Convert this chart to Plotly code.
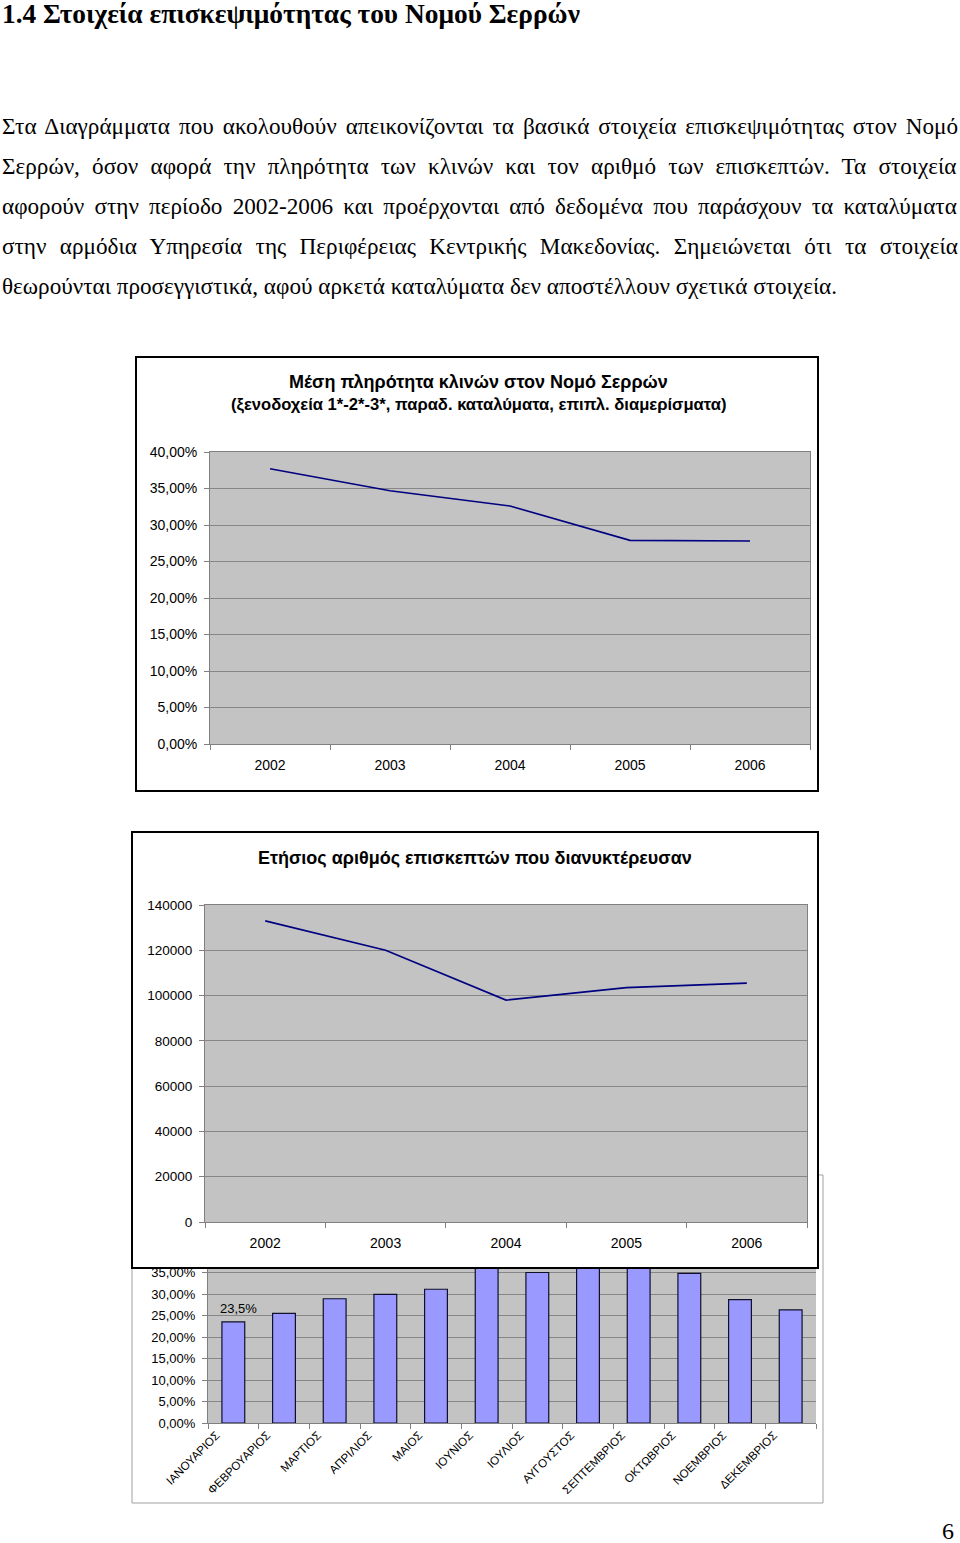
import plotly.graph_objects as go

W, H = 960, 1543


def fx(x):
    return x / W


def fy(y):
    return 1 - y / H


# ---------------- data ----------------
page_title = "1.4 Στοιχεία επισκεψιμότητας του Νομού Σερρών"
para_lines = [
    "Στα Διαγράμματα που ακολουθούν απεικονίζονται τα βασικά στοιχεία επισκεψιμότητας στον Νομό",
    "Σερρών, όσον αφορά την πληρότητα των κλινών και τον αριθμό των επισκεπτών. Τα στοιχεία",
    "αφορούν στην περίοδο 2002-2006 και προέρχονται από δεδομένα που παράσχουν τα καταλύματα",
    "στην αρμόδια Υπηρεσία της Περιφέρειας Κεντρικής Μακεδονίας. Σημειώνεται ότι τα στοιχεία",
    "θεωρούνται προσεγγιστικά, αφού αρκετά καταλύματα δεν αποστέλλουν σχετικά στοιχεία.",
]
page_number = "6"

chart1_title = [
    "Μέση πληρότητα κλινών στον Νομό Σερρών",
    "(ξενοδοχεία 1*-2*-3*, παραδ. καταλύματα, επιπλ. διαμερίσματα)",
]
chart2_title = "Ετήσιος αριθμός επισκεπτών που διανυκτέρευσαν"

years = ["2002", "2003", "2004", "2005", "2006"]
occupancy = [37.7, 34.7, 32.6, 27.9, 27.8]
visitors = [133000, 120000, 98000, 103500, 105500]

months = ["ΙΑΝΟΥΑΡΙΟΣ", "ΦΕΒΡΟΥΑΡΙΟΣ", "ΜΑΡΤΙΟΣ", "ΑΠΡΙΛΙΟΣ", "ΜΑΙΟΣ", "ΙΟΥΝΙΟΣ",
          "ΙΟΥΛΙΟΣ", "ΑΥΓΟΥΣΤΟΣ", "ΣΕΠΤΕΜΒΡΙΟΣ", "ΟΚΤΩΒΡΙΟΣ", "ΝΟΕΜΒΡΙΟΣ", "ΔΕΚΕΜΒΡΙΟΣ"]
monthly_occupancy = [23.5, 25.5, 28.9, 29.9, 31.1, 38.0, 35.0, 41.0, 37.5, 34.8, 28.7, 26.3]

# ---------------- styles ----------------
SERIF = "Liberation Serif, Times New Roman, serif"
SANS = "Liberation Sans, Arial, sans-serif"
GRID = "#878787"
BG = "#c3c3c3"
PARA_SIZE = 23.2
# extra word spacing (px) used to justify the paragraph lines
para_wordspacing = [3.2, 6.4, 4.4, 7.6, 0]

fig = go.Figure()

fig.add_trace(go.Scatter(x=years, y=occupancy, mode="lines",
                         line=dict(color="#000080", width=1.6),
                         xaxis="x", yaxis="y", hoverinfo="skip"))
fig.add_trace(go.Scatter(x=years, y=visitors, mode="lines",
                         line=dict(color="#000080", width=1.6),
                         xaxis="x2", yaxis="y2", hoverinfo="skip"))
fig.add_trace(go.Bar(x=months, y=monthly_occupancy,
                     marker=dict(color="#9999ff", line=dict(color="#10102a", width=1.2)),
                     xaxis="x3", yaxis="y3", hoverinfo="skip"))

common_x = dict(type="category", showgrid=False, ticks="outside", tickson="boundaries",
                ticklen=5, tickcolor="#808080", showline=True, linecolor="#808080",
                mirror=True, color="black", zeroline=False, automargin=False)
common_y = dict(showgrid=True, gridcolor=GRID, gridwidth=1, ticks="outside", ticklen=5,
                tickcolor="#808080", showline=True, linecolor="#808080", mirror=True,
                zeroline=False, color="black", automargin=False)

dom1 = dict(x=[210, 810], y=[744, 452])
dom2 = dict(x=[205, 807], y=[1222, 905])
dom3 = dict(x=[208, 816], y=[1423, 1269])

fig.update_layout(
    width=W, height=H, margin=dict(l=0, r=0, t=0, b=0, pad=0, autoexpand=False),
    paper_bgcolor="white", plot_bgcolor=BG, showlegend=False,
    separators=",.", bargap=0.55,
    font=dict(family=SANS, size=14, color="black"),
    xaxis=dict(common_x, domain=[fx(dom1["x"][0]), fx(dom1["x"][1])], anchor="y",
               range=[-0.5, 4.5], tickfont=dict(size=14), ticklabelstandoff=8),
    yaxis=dict(common_y, domain=[fy(dom1["y"][0]), fy(dom1["y"][1])], anchor="x",
               range=[0, 40], dtick=5, tickformat=".2f", ticksuffix="%",
               tickfont=dict(size=14), ticklabelstandoff=4),
    xaxis2=dict(common_x, domain=[fx(dom2["x"][0]), fx(dom2["x"][1])], anchor="y2",
                range=[-0.5, 4.5], tickfont=dict(size=14), ticklabelstandoff=8),
    yaxis2=dict(common_y, domain=[fy(dom2["y"][0]), fy(dom2["y"][1])], anchor="x2",
                range=[0, 140000], dtick=20000, tickformat="d", tickfont=dict(size=13.5),
                ticklabelstandoff=4),
    xaxis3=dict(common_x, domain=[fx(dom3["x"][0]), fx(dom3["x"][1])], anchor="y3",
                range=[-0.5, 11.5], tickangle=-45, tickfont=dict(size=11.6), mirror=False,
                ticklabelshift=-17, ticklabelstandoff=0),
    yaxis3=dict(common_y, domain=[fy(dom3["y"][0]), fy(dom3["y"][1])], anchor="x3",
                range=[0, (1423 - 1269) / 4.3], dtick=5, tickformat=".2f", ticksuffix="%",
                tickfont=dict(size=13), ticklabelstandoff=4, mirror=False),
)

shapes = []
# chart 3 frame (partly hidden behind chart 2)
shapes.append(dict(type="rect", xref="paper", yref="paper", x0=fx(132), x1=fx(823),
                   y0=fy(1503), y1=fy(1175), line=dict(color="#a0a0a0", width=1),
                   fillcolor="white", layer="below"))
# chart 1 frame
shapes.append(dict(type="rect", xref="paper", yref="paper", x0=fx(136), x1=fx(818),
                   y0=fy(791), y1=fy(357), line=dict(color="black", width=2),
                   fillcolor="white", layer="below"))
# chart 2 frame
shapes.append(dict(type="rect", xref="paper", yref="paper", x0=fx(132), x1=fx(818),
                   y0=fy(1268), y1=fy(832), line=dict(color="black", width=2),
                   fillcolor="white", layer="below"))
# grey plot areas
for d in (dom1, dom2, dom3):
    shapes.append(dict(type="rect", xref="paper", yref="paper", x0=fx(d["x"][0]),
                       x1=fx(d["x"][1]), y0=fy(d["y"][0]), y1=fy(d["y"][1]),
                       line=dict(width=0), fillcolor=BG, layer="below"))
fig.update_layout(shapes=shapes)

ann = []
ann.append(dict(text="<b>%s</b>" % page_title, x=fx(0), y=fy(14), xref="paper",
                yref="paper", xanchor="left", yanchor="middle", showarrow=False,
                font=dict(family=SERIF, size=27.4, color="black")))
for i, line in enumerate(para_lines):
    txt = line
    if para_wordspacing[i]:
        txt = '<span style="word-spacing:%.1fpx">%s</span>' % (para_wordspacing[i], line)
    ann.append(dict(text=txt, x=fx(0), y=fy(126 + 40 * i), xref="paper", yref="paper",
                    xanchor="left", yanchor="middle", showarrow=False,
                    font=dict(family=SERIF, size=PARA_SIZE, color="black")))
ann.append(dict(text="<b>%s</b>" % chart1_title[0], x=fx(478), y=fy(382), xref="paper",
                yref="paper", xanchor="center", yanchor="middle", showarrow=False,
                font=dict(family=SANS, size=18)))
ann.append(dict(text="<b>%s</b>" % chart1_title[1], x=fx(478), y=fy(405), xref="paper",
                yref="paper", xanchor="center", yanchor="middle", showarrow=False,
                font=dict(family=SANS, size=16.6)))
ann.append(dict(text="<b>%s</b>" % chart2_title, x=fx(475), y=fy(858), xref="paper",
                yref="paper", xanchor="center", yanchor="middle", showarrow=False,
                font=dict(family=SANS, size=18)))
ann.append(dict(text=("%.1f" % monthly_occupancy[0]).replace(".", ",") + "%",
                x=months[0], y=monthly_occupancy[0], xref="x3", yref="y3",
                xanchor="center", yanchor="bottom", yshift=4, xshift=5, showarrow=False,
                font=dict(family=SANS, size=13)))
ann.append(dict(text=page_number, x=fx(948), y=fy(1531), xref="paper", yref="paper",
                xanchor="center", yanchor="middle", showarrow=False,
                font=dict(family=SERIF, size=24)))
fig.update_layout(annotations=ann)

# remove the browser's default 8px page margin so the figure sits at the page origin
fig.write_html("out.html", config={"displayModeBar": False},
               post_script="document.body.style.margin='0px';")
